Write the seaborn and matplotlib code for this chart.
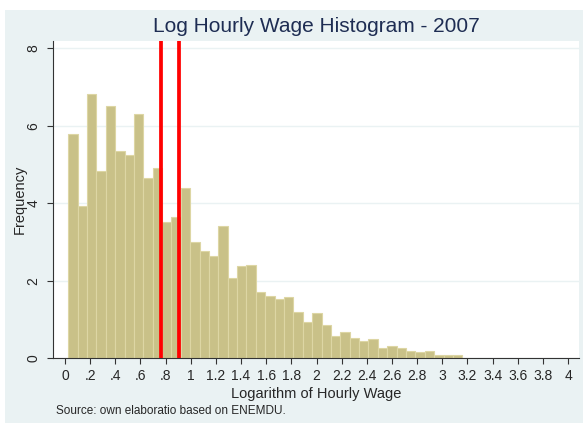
import numpy as np
import pandas as pd
import seaborn as sns
import matplotlib.pyplot as plt
from matplotlib.patches import Rectangle

# Histogram bins: first edge, bin width, bar heights
first_edge = 0.026
bin_width = 0.0746
heights = [5.80, 3.92, 6.82, 4.83, 6.52, 5.35, 5.25, 6.30, 4.66, 4.90,
           3.52, 3.64, 4.39, 2.99, 2.76, 2.63, 3.40, 2.07, 2.38, 2.41,
           1.71, 1.61, 1.53, 1.58, 1.18, 0.92, 1.17, 0.85, 0.56, 0.66,
           0.52, 0.43, 0.49, 0.27, 0.32, 0.25, 0.19, 0.16, 0.19, 0.09,
           0.09, 0.09]
ref_lines = [0.765, 0.910]

xticks = [0, .2, .4, .6, .8, 1, 1.2, 1.4, 1.6, 1.8, 2, 2.2, 2.4, 2.6, 2.8,
          3, 3.2, 3.4, 3.6, 3.8, 4]
xticklabels = ['0', '.2', '.4', '.6', '.8', '1', '1.2', '1.4', '1.6', '1.8',
               '2', '2.2', '2.4', '2.6', '2.8', '3', '3.2', '3.4', '3.6',
               '3.8', '4']
yticks = [0, 2, 4, 6, 8]

n_bins = len(heights)
last_edge = first_edge + bin_width * n_bins
df = pd.DataFrame({
    'lwage': first_edge + bin_width * (np.arange(n_bins) + 0.5),
    'freq': heights,
})

sns.set_style('white')
plt.rcParams['font.family'] = ['Liberation Sans', 'DejaVu Sans']

bg = '#EAF2F3'
fig = plt.figure(figsize=(5.83, 4.23), dpi=100)
fig.patch.set_facecolor('white')
fig.patches.append(Rectangle((5 / 583, 0), 1, 1 - 10 / 423,
                             transform=fig.transFigure, facecolor=bg,
                             edgecolor='none', zorder=-10))

ax = fig.add_axes([53 / 583, 1 - 358 / 423, 526 / 583, 317.3 / 423])
ax.set_facecolor('white')

sns.histplot(data=df, x='lwage', weights='freq', binwidth=bin_width,
             binrange=(first_edge, last_edge), stat='count', ax=ax,
             color='#C9C188', edgecolor='#DDD6A4', linewidth=0.8, alpha=1)

for v in ref_lines:
    ax.axvline(v, color='red', linewidth=2.7, zorder=5)

ax.set_xlim(-0.095, 4.087)
ax.set_ylim(0, 8.2)
for y in yticks:
    ax.axhline(y, color=bg, linewidth=1, zorder=0)

ax.set_xticks(xticks)
ax.set_xticklabels(xticklabels, fontsize=10)
ax.set_yticks(yticks)
ax.set_yticklabels([str(y) for y in yticks], fontsize=10, rotation=90,
                   va='center')
ax.tick_params(axis='both', direction='out', length=4, width=0.8,
               color='#333333', left=True, bottom=True)
ax.tick_params(axis='x', pad=4)
ax.tick_params(axis='y', pad=5)

for s in ['top', 'right']:
    ax.spines[s].set_visible(False)
for s in ['left', 'bottom']:
    ax.spines[s].set_color('#333333')
    ax.spines[s].set_linewidth(0.8)

ax.set_xlabel('Logarithm of Hourly Wage', fontsize=10.5, labelpad=2.5)
ax.set_ylabel('Frequency', fontsize=10.5, labelpad=0)
ax.set_title('Log Hourly Wage Histogram - 2007', fontsize=15,
             color='#1E2D53', pad=6)

fig.text(56 / 583, 1 - 411 / 423, 'Source: own elaboratio based on ENEMDU.',
         fontsize=8.5, va='center', ha='left')

fig.savefig('out.png', dpi=100)
